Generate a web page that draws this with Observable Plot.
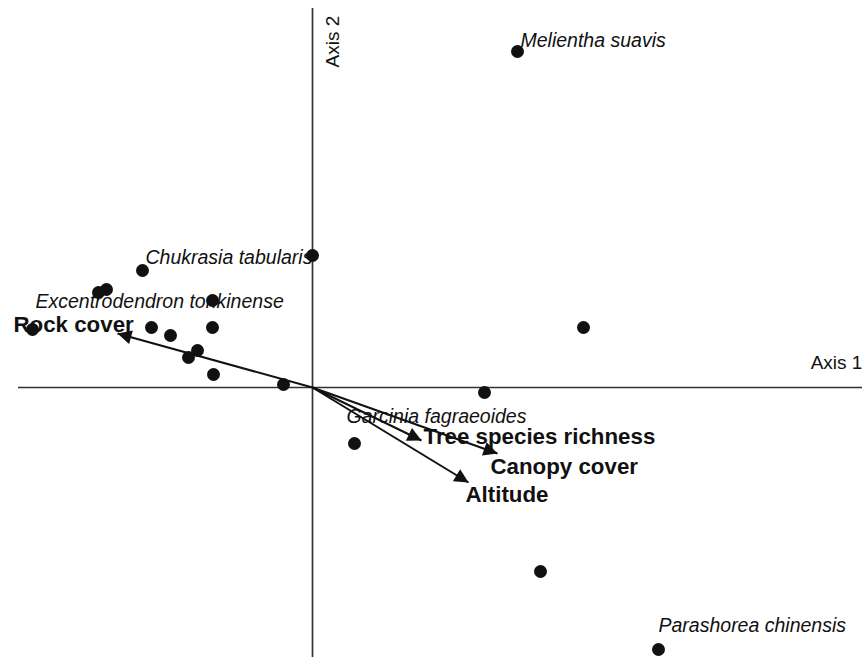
<!DOCTYPE html>
<html><head><meta charset="utf-8">
<script src="https://cdn.jsdelivr.net/npm/d3@7"></script>
<script src="https://cdn.jsdelivr.net/npm/@observablehq/plot@0.6"></script>
<style>body{margin:0;background:#fff}#chart svg{display:block}</style>
</head><body><div id="chart"></div>
<script>
// Site scores (axis 1, axis 2)
const siteX = [2.05, 0.00, -1.70, -2.14, -2.06, -1.00, -2.80, -1.61, -1.42, -1.00, -1.15, -1.24, -0.99, -0.29, 1.72, 0.42, 2.71, 2.28, 3.46];
const siteY = [3.36, 1.32, 1.17, 0.95, 0.98, 0.87, 0.58, 0.60, 0.52, 0.60, 0.37, 0.30, 0.13, 0.03, -0.05, -0.56, 0.60, -1.84, -2.62];

// Species labels
const speciesNames = ["Melientha suavis", "Chukrasia tabularis", "Excentrodendron tonkinense", "Garcinia fagraeoides", "Parashorea chinensis"];
const speciesX = [2.08, -1.67, -2.77, 0.34, 3.46];
const speciesY = [3.47, 1.30, 0.86, -0.29, -2.38];

// Environmental vectors
const envNames = ["Rock cover", "Tree species richness", "Canopy cover", "Altitude"];
const envX = [-1.95, 1.09, 1.85, 1.56];
const envY = [0.54, -0.53, -0.66, -0.95];
const envLabelX = [-2.99, 1.11, 1.78, 1.53];
const envLabelY = [0.625, -0.49, -0.79, -1.075];

// Axis titles
const axisNames = ["Axis 1", "Axis 2"];
const axisLabelX = [5.24, 0.20];
const axisLabelY = [0.245, 3.46];
const axisRotate = [0, -90];

const xDomain = [-3.12, 5.5];
const yDomain = [-2.70, 3.87];

const idx = a => a.map((_, i) => i);

const chart = Plot.plot({
  width: 862, height: 657,
  marginTop: 0, marginRight: 0, marginBottom: 0, marginLeft: 0,
  x: {domain: xDomain, axis: null},
  y: {domain: yDomain, axis: null},
  style: {fontFamily: "Liberation Sans, Arial, sans-serif", background: "#fff"},
  marks: [
    Plot.ruleY([0], {x1: -2.94, x2: xDomain[1], stroke: "#333", strokeWidth: 1.7}),
    Plot.ruleX([0], {y1: 3.79, y2: yDomain[0], stroke: "#333", strokeWidth: 1.7}),
    Plot.link(idx(envNames), {x1: 0, y1: 0, x2: i => envX[i], y2: i => envY[i], stroke: "#111", strokeWidth: 2}),
    Plot.dot(idx(siteX), {x: i => siteX[i], y: i => siteY[i], r: 6.5, fill: "#111", stroke: "none"}),
    Plot.text(idx(speciesNames), {x: i => speciesX[i], y: i => speciesY[i], text: i => speciesNames[i], textAnchor: "start", fontSize: 19.5, fontStyle: "italic", fill: "#111"}),
    Plot.text(idx(envNames), {x: i => envLabelX[i], y: i => envLabelY[i], text: i => envNames[i], textAnchor: "start", fontSize: 22.3, fontWeight: "bold", fill: "#111"}),
    Plot.text(idx(axisNames), {x: i => axisLabelX[i], y: i => axisLabelY[i], text: i => axisNames[i], textAnchor: "middle", rotate: i => axisRotate[i], fontSize: 19, fill: "#111"})
  ]
});

// Filled arrowheads for the environmental vectors
const ns = "http://www.w3.org/2000/svg";
const defs = document.createElementNS(ns, "defs");
const marker = document.createElementNS(ns, "marker");
marker.setAttribute("id", "arrowhead");
marker.setAttribute("viewBox", "0 0 10 10");
marker.setAttribute("refX", "10");
marker.setAttribute("refY", "5");
marker.setAttribute("markerWidth", "23");
marker.setAttribute("markerHeight", "14");
marker.setAttribute("markerUnits", "userSpaceOnUse");
marker.setAttribute("orient", "auto");
const mp = document.createElementNS(ns, "path");
mp.setAttribute("d", "M0,0L10,5L0,10Z");
mp.setAttribute("fill", "#111");
marker.appendChild(mp);
defs.appendChild(marker);
chart.insertBefore(defs, chart.firstChild);
chart.querySelectorAll('g[aria-label="link"] path').forEach(p => p.setAttribute("marker-end", "url(#arrowhead)"));

document.getElementById("chart").appendChild(chart);
</script>
</body></html>
